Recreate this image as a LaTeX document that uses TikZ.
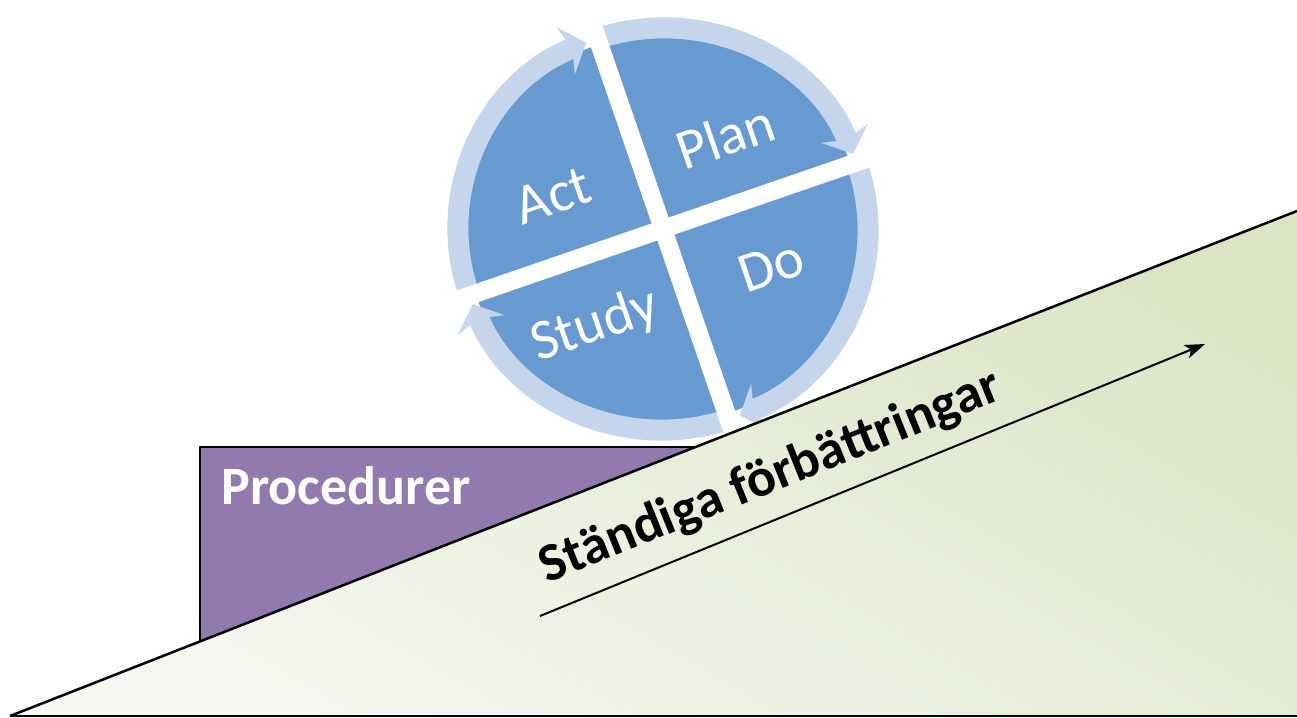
\documentclass[tikz,border=0pt]{standalone}
\usepackage{fontspec}
\setmainfont{Carlito}
\usetikzlibrary{positioning}
\usetikzlibrary{calc}
\usetikzlibrary{arrows.meta}
\definecolor{diskblue}{RGB}{103,154,209}
\definecolor{ringblue}{RGB}{197,214,236}
\definecolor{proclila}{RGB}{146,122,175}
\definecolor{wedgelight}{RGB}{245,247,240}
\definecolor{wedgedark}{RGB}{219,229,198}

\begin{document}
\begin{tikzpicture}
    [x=0.5pt, y=0.5pt,
    phase/.style={text=white, font=\fontsize{28.5}{30}\selectfont, rotate=19, inner sep=0pt},
    ring/.style={ringblue, line width=10.5pt, -{Stealth[length=11pt, width=25pt, inset=3.5pt, line width=0.01pt]}},
    gap/.style={white, line width=9pt},
    outline/.style={black, line width=1.25pt, line join=round},
    title/.style={font=\bfseries\fontsize{27}{30}\selectfont, inner sep=0pt}]
     \useasboundingbox (0,0) rectangle (1297,718);
     %\draw[step=100,gray,very thin] (0,0) grid (1297,718);
     % PDCA wheel
     \coordinate (c) at (663,489);
     \fill[diskblue] (c) ellipse [x radius=199, y radius=195];
     \foreach \s/\e in {197/112, 107/22, 17/-68, -73/-158}
        \draw[ring] (c) ++(\s:205 and 201) arc[start angle=\s, end angle=\e, x radius=205, y radius=201];
     \draw[gap] (c) ++(19:230) -- ++(199:460);
     \draw[gap] (c) ++(109:230) -- ++(289:460);
     \node[phase] (plan)  at (725,582) {Plan};
     \node[phase] (act)   at (553,522) {Act};
     \node[phase] (study) at (595,392) {Study};
     \node[phase] (do)    at (771,452) {Do};
     % procedures block
     \coordinate (pc) at (200,76.6);
     \coordinate (pa) at (200,271);
     \coordinate (pb) at (695.5,271);
     \fill[proclila] (pc) -- (pa) -- (pb) -- cycle;
     \draw[outline] (pc) -- (pa) -- (pb);
     % slope
     \coordinate (wl) at (10,2);
     \coordinate (wr) at (1297,2);
     \coordinate (wt) at (1297,507);
     \shade[bottom color=wedgelight, top color=wedgedark, shading angle=-30] (wl) -- (wt) -- (wr) -- cycle;
     \draw[outline] (wl) -- (wt);
     \draw[outline] (wl) -- (wr);
     \node[title, text=white, anchor=base west] (proc) at (221,213) {Procedurer};
     \node[title, rotate=22, anchor=base] (impr) at (776,227) {Ständiga förbättringar};
     \coordinate (arrS) at (540,102);
     \coordinate (arrE) at (1205,374);
     \draw[-{Stealth[length=10pt, width=7pt, inset=2.5pt]}, line width=1pt] (arrS) -- (arrE);
\end{tikzpicture}
\end{document}
